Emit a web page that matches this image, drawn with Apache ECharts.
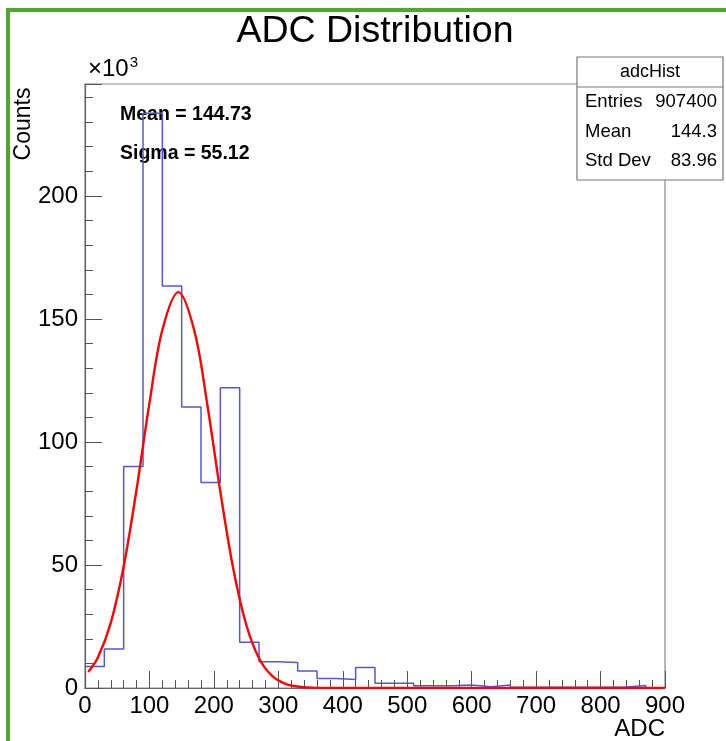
<!DOCTYPE html>
<html>
<head>
<meta charset="utf-8">
<script src="https://cdn.jsdelivr.net/npm/echarts@6/dist/echarts.min.js"></script>
<style>
  html, body { margin: 0; padding: 0; background: #fff; }
  #myEchart1 { width: 726px; height: 741px; }
</style>
</head>
<body>
<div id="myEchart1"></div>
<script>
// histogram bins (left edges, ADC) and counts in units of 10^3
var binLow = [0, 30, 60, 90, 120, 150, 180, 210, 240, 270,
              300, 330, 360, 390, 420, 450, 480, 510, 540, 570,
              600, 630, 660, 690, 720, 750, 780, 810, 840, 870];
var counts = [8.7, 15.9, 90, 233.6, 163.4, 114.2, 83.5, 122, 18.6, 10.7,
              10.4, 6.9, 3.9, 3.5, 8.3, 1.9, 1.9, 0.95, 0.95, 1.2,
              0.5, 1.2, 0.3, 0.3, 0.3, 0.3, 0.3, 0.4, 1.0, 0];
var xMax = 900;

// gaussian fit curve
var fitX = [5, 20, 40, 60, 80, 100, 120, 145, 170, 190, 210, 230, 250, 270, 290, 310, 330, 350, 380, 420, 900];
var fitY = [6.5, 12.4, 26.5, 49.4, 80.7, 115.8, 145.5, 160.9, 144.8, 114.8, 79.8, 48.6, 25.9, 12.1, 5.0, 1.8, 0.6, 0.15, 0.02, 0, 0];

var yTicks = [0, 50, 100, 150, 200];

var statsRows = [
  ['Entries', '907400'],
  ['Mean', '144.3'],
  ['Std Dev', '83.96']
];

var histData = binLow.map(function (x, i) { return [x, counts[i]]; });
histData.push([xMax, counts[counts.length - 1]]);
var fitData = fitX.map(function (x, i) { return [x, fitY[i]]; });

var myChart = echarts.init(document.getElementById('myEchart1'));
var font = '"Liberation Sans", Arial, sans-serif';

var statsGraphics = [
  { type: 'rect', shape: { x: 577, y: 57, width: 146, height: 123 },
    style: { fill: '#fff', stroke: '#777', lineWidth: 1.2 } },
  { type: 'line', shape: { x1: 577, y1: 87, x2: 723, y2: 87 },
    style: { stroke: '#777', lineWidth: 1.2 } },
  { type: 'text', x: 650, y: 72,
    style: { text: 'adcHist', font: '18px ' + font, fill: '#000', textAlign: 'center', textVerticalAlign: 'middle' } }
];
statsRows.forEach(function (r, i) {
  var y = 102 + i * 29.5;
  statsGraphics.push({ type: 'text', x: 585, y: y,
    style: { text: r[0], font: '18.5px ' + font, fill: '#000', textAlign: 'left', textVerticalAlign: 'middle' } });
  statsGraphics.push({ type: 'text', x: 717, y: y,
    style: { text: r[1], font: '18.5px ' + font, fill: '#000', textAlign: 'right', textVerticalAlign: 'middle' } });
});

var option = {
  animation: false,
  backgroundColor: '#fff',
  grid: {
    left: 85, right: 61, top: 84, bottom: 53,
    outerBoundsMode: 'none', containLabel: false,
    show: true, borderColor: '#888', borderWidth: 1.2
  },
  xAxis: {
    type: 'value', min: 0, max: xMax, interval: 100,
    axisLine: { show: true, lineStyle: { color: '#666', width: 1.2 } },
    axisTick: { show: true, inside: true, length: 17, lineStyle: { color: '#555' } },
    minorTick: { show: true, splitNumber: 5, length: 8, lineStyle: { color: '#555' } },
    splitLine: { show: false },
    axisLabel: { fontFamily: font, fontSize: 24, color: '#000', margin: 6 }
  },
  yAxis: {
    type: 'value', min: 0, max: 245.5, interval: 50,
    axisLine: { show: true, lineStyle: { color: '#666', width: 1.2 } },
    axisTick: { show: true, inside: true, length: 17, lineStyle: { color: '#555' } },
    minorTick: { show: true, splitNumber: 5, length: 8, lineStyle: { color: '#555' } },
    splitLine: { show: false },
    axisLabel: {
      fontFamily: font, fontSize: 24, color: '#000', margin: 7, showMaxLabel: false,
      formatter: function (v) { return yTicks.indexOf(v) >= 0 ? String(v) : ''; }
    }
  },
  graphic: [
    { type: 'rect', shape: { x: 6, y: 8, width: 4, height: 741 }, style: { fill: '#4ea72e' } },
    { type: 'rect', shape: { x: 6, y: 8, width: 726, height: 4 }, style: { fill: '#4ea72e' } },
    { type: 'text', x: 375, y: 32,
      style: { text: 'ADC Distribution', font: '37.5px ' + font, fill: '#000', textAlign: 'center', textVerticalAlign: 'middle' } },
    { type: 'text', x: 24, y: 124, rotation: Math.PI / 2,
      style: { text: 'Counts', font: '23px ' + font, fill: '#000', textAlign: 'center', textVerticalAlign: 'middle' } },
    { type: 'text', x: 665, y: 729,
      style: { text: 'ADC', font: '24px ' + font, fill: '#000', textAlign: 'right', textVerticalAlign: 'middle' } },
    { type: 'text', x: 88, y: 69,
      style: { text: '{a|×10}{b|3}', textVerticalAlign: 'middle',
        rich: { a: { fontFamily: font, fontSize: 24, color: '#000' },
                b: { fontFamily: font, fontSize: 15, color: '#000', verticalAlign: 'top', padding: [0, 0, 13, 1] } } } },
    { type: 'text', x: 120, y: 115,
      style: { text: 'Mean = 144.73', font: 'bold 19.5px ' + font, fill: '#000', textVerticalAlign: 'middle' } },
    { type: 'text', x: 120, y: 154,
      style: { text: 'Sigma = 55.12', font: 'bold 19.5px ' + font, fill: '#000', textVerticalAlign: 'middle' } }
  ].concat(statsGraphics),
  series: [
    {
      name: 'adcHist', type: 'line', step: 'end', data: histData,
      symbol: 'none', lineStyle: { color: '#5656d4', width: 1.5 }, z: 2
    },
    {
      name: 'fit', type: 'line', data: fitData, smooth: 0.35,
      symbol: 'none', lineStyle: { color: '#ff0000', width: 2.4 }, z: 3
    }
  ]
};

option && myChart.setOption(option);
</script>
</body>
</html>
